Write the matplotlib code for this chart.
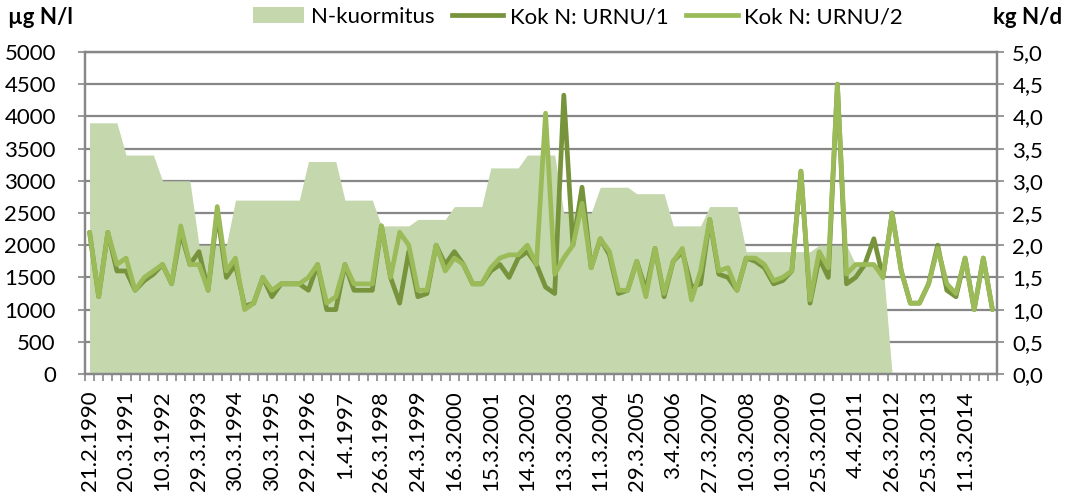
import numpy as np
import matplotlib
matplotlib.use("Agg")
import matplotlib.pyplot as plt
from matplotlib.patches import Patch
from matplotlib.lines import Line2D

plt.rcParams['font.family'] = ['Lato', 'DejaVu Sans']

# every 4th category carries a date label
tick_labels = ["21.2.1990", "20.3.1991", "10.3.1992", "29.3.1993", "30.3.1994",
               "30.3.1995", "29.2.1996", "1.4.1997", "26.3.1998", "24.3.1999",
               "16.3.2000", "15.3.2001", "14.3.2002", "13.3.2003", "11.3.2004",
               "29.3.2005", "3.4.2006", "27.3.2007", "10.3.2008", "10.3.2009",
               "25.3.2010", "4.4.2011", "26.3.2012", "25.3.2013", "11.3.2014"]

# N-kuormitus, kg N/d (secondary axis)
kuormitus = [3.9, 3.9, 3.9, 3.9, 3.4, 3.4, 3.4, 3.4, 3.0, 3.0, 3.0, 3.0,
             2.0, 2.0, 2.0, 2.0, 2.7, 2.7, 2.7, 2.7, 2.7, 2.7, 2.7, 2.7,
             3.3, 3.3, 3.3, 3.3, 2.7, 2.7, 2.7, 2.7, 2.3, 2.3, 2.3, 2.3,
             2.4, 2.4, 2.4, 2.4, 2.6, 2.6, 2.6, 2.6, 3.2, 3.2, 3.2, 3.2,
             3.4, 3.4, 3.4, 3.4, 2.5, 2.5, 2.5, 2.5, 2.9, 2.9, 2.9, 2.9,
             2.8, 2.8, 2.8, 2.8, 2.3, 2.3, 2.3, 2.3, 2.6, 2.6, 2.6, 2.6,
             1.9, 1.9, 1.9, 1.9, 1.9, 1.9, 1.9, 1.9, 2.0, 2.0, 2.0, 2.0,
             1.7, 1.7, 1.7, 1.7, 0.0]

# Kok N, ug N/l
urnu1 = [2200, 1200, 2200, 1600, 1600, 1300, 1450, 1550, 1700, 1400,
         2200, 1700, 1900, 1300, 2500, 1500, 1700, 1050, 1100, 1500,
         1200, 1400, 1400, 1400, 1300, 1700, 1000, 1000, 1700, 1300,
         1300, 1300, 2300, 1500, 1100, 1900, 1200, 1250, 2000, 1700,
         1900, 1700, 1400, 1400, 1600, 1700, 1500, 1800, 1900, 1700,
         1350, 1250, 4330, 2000, 2900, 1650, 2100, 1850, 1250, 1300,
         1750, 1300, 1950, 1200, 1750, 1900, 1350, 1400, 2400, 1550,
         1500, 1300, 1800, 1750, 1650, 1400, 1450, 1600, 3150, 1100,
         1800, 1500, 4500, 1400, 1500, 1700, 2100, 1500, 2500, 1600,
         1100, 1100, 1400, 2000, 1300, 1200, 1800, 1000, 1800, 1000]
urnu2 = [2200, 1200, 2200, 1700, 1800, 1300, 1500, 1600, 1700, 1400,
         2300, 1700, 1700, 1300, 2600, 1600, 1800, 1000, 1100, 1500,
         1300, 1400, 1400, 1400, 1500, 1700, 1100, 1200, 1700, 1400,
         1400, 1400, 2300, 1500, 2200, 2000, 1300, 1300, 2000, 1600,
         1800, 1700, 1400, 1400, 1650, 1800, 1850, 1850, 2000, 1700,
         4050, 1550, 1800, 2000, 2650, 1650, 2100, 1900, 1300, 1300,
         1750, 1200, 1950, 1250, 1750, 1950, 1150, 1600, 2400, 1600,
         1650, 1300, 1800, 1800, 1700, 1450, 1500, 1600, 3150, 1150,
         1900, 1650, 4500, 1550, 1700, 1700, 1700, 1500, 2500, 1600,
         1100, 1100, 1400, 1950, 1400, 1250, 1800, 1000, 1800, 1000]

grid_c = '#878787'
fig = plt.figure(figsize=(10.65, 5.01), dpi=100)
ax = fig.add_axes([85 / 1065, 127 / 501, 912 / 1065, 322 / 501])
ax2 = ax.twinx()
ax.set_zorder(ax2.get_zorder() + 1)
ax.patch.set_visible(False)

# area on the secondary axis, below the lines
ax2.fill_between(np.arange(len(kuormitus)), kuormitus, 0, color='#C4D7AD', lw=0, zorder=2)
ax2.set_ylim(0, 5)
r_ticks = np.arange(0, 5.01, 0.5)
ax2.set_yticks(r_ticks)
ax2.set_yticklabels([f"{v:.1f}".replace('.', ',') for v in r_ticks])
ax2.set_axisbelow(True)
ax2.grid(axis='y', color=grid_c, lw=1.6)

x = np.arange(len(urnu1))
ax.plot(x, urnu1, color='#77933C', lw=3.4, solid_joinstyle='round', solid_capstyle='round')
ax.plot(x, urnu2, color='#9BBB59', lw=3.4, solid_joinstyle='round', solid_capstyle='round')
ax.set_xlim(-0.5, len(urnu1) - 0.5)
ax.set_ylim(0, 5000)
ax.set_yticks(np.arange(0, 5001, 500))

ax.set_xticks(np.arange(0, len(urnu1), 4))
ax.set_xticklabels(tick_labels, rotation=90)
ax.set_xticks(np.arange(-0.5, len(urnu1)), minor=True)
ax.tick_params(axis='x', which='major', length=0, pad=12, labelsize=16)
ax.tick_params(axis='x', which='minor', length=5, width=1.2, color=grid_c, direction='out')
ax.tick_params(axis='y', length=5, width=1.2, color=grid_c, pad=16, labelsize=16)
ax2.tick_params(axis='y', length=5, width=1.2, color=grid_c, pad=6, labelsize=16)

for a in (ax, ax2):
    for s in a.spines.values():
        s.set_color(grid_c)
        s.set_linewidth(1.6)

fig.text(8 / 1065, 1 - 17 / 501, "µg N/l", fontsize=16, fontweight='bold', va='center', ha='left')
fig.text(1062 / 1065, 1 - 17 / 501, "kg N/d", fontsize=16, fontweight='bold', va='center', ha='right')

handles = [Patch(color='#C4D7AD', lw=0),
           Line2D([], [], color='#77933C', lw=3.4),
           Line2D([], [], color='#9BBB59', lw=3.4)]
fig.legend(handles, ["N-kuormitus", "Kok N: URNU/1", "Kok N: URNU/2"],
           loc='center', bbox_to_anchor=(578 / 1065, 1 - 17 / 501), ncol=3,
           frameon=False, fontsize=16, handlelength=2.3, handletextpad=0.3,
           columnspacing=0.8, borderpad=0)

fig.savefig("out.png", dpi=100)
